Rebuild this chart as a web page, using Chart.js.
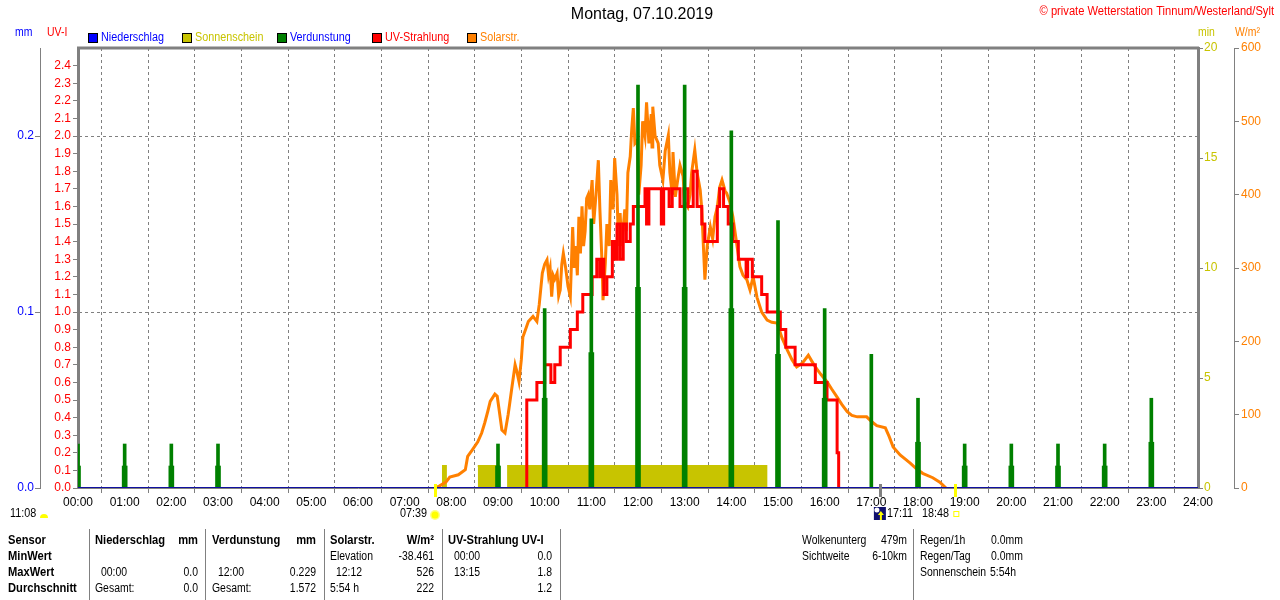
<!DOCTYPE html>
<html>
<head>
<meta charset="utf-8">
<script src="https://cdn.jsdelivr.net/npm/chart.js@4.4.1/dist/chart.umd.min.js"></script>
<style>
  html, body { margin: 0; padding: 0; background: #fff; }
  canvas { display: block; }
</style>
</head>
<body>
<canvas id="wetterChart" width="1280" height="600"></canvas>
<script>
// --- ticks / labels ---
const hourTicks = [0, 60, 120, 180, 240, 300, 360, 420, 480, 540, 600, 660, 720,
  780, 840, 900, 960, 1020, 1080, 1140, 1200, 1260, 1320, 1380, 1440];
const hourLabels = ['00:00', '01:00', '02:00', '03:00', '04:00', '05:00', '06:00', '07:00',
  '08:00', '09:00', '10:00', '11:00', '12:00', '13:00', '14:00', '15:00', '16:00', '17:00',
  '18:00', '19:00', '20:00', '21:00', '22:00', '23:00', '24:00'];
const uvTicks = [0, 0.1, 0.2, 0.3, 0.4, 0.5, 0.6, 0.7, 0.8, 0.9, 1.0, 1.1, 1.2, 1.3, 1.4,
  1.5, 1.6, 1.7, 1.8, 1.9, 2.0, 2.1, 2.2, 2.3, 2.4];
const mmTicks = [0, 0.1, 0.2];
const minTicks = [0, 5, 10, 15, 20];
const wm2Ticks = [0, 100, 200, 300, 400, 500, 600];

// --- series (time in minutes since 00:00) ---
const niederTimes = [0, 1440];
const niederValues = [0, 0];

const sunTimes = [468, 473, 474, 514, 541, 542, 549, 553, 885, 1440];
const sunValues = [1, 0, null, 1, 0, null, 0, 1, 0, 0];

const verdTimes = [0, 60, 120, 180, 540, 600, 660, 720, 780, 840, 900, 960, 1020, 1080,
  1140, 1200, 1260, 1320, 1380];
const verdValues = [0.025, 0.025, 0.025, 0.025, 0.025, 0.102, 0.153, 0.229, 0.229, 0.203,
  0.152, 0.102, 0.076, 0.051, 0.025, 0.025, 0.025, 0.025, 0.051];
const verdShoulder = [0.0125, 0.0125, 0.0125, 0.0125, 0.0125, 0.051, 0.077, 0.114, 0.114,
  0.102, 0.076, 0.051, 0, 0.026, 0.0125, 0.0125, 0.0125, 0.0125, 0.026];

const uvTimes = [576, 577, 590, 600, 608, 613, 620, 633, 642, 649, 661, 667, 671, 674, 676,
  680, 687, 690, 693, 697, 701, 705, 710, 714, 729, 731, 734, 750, 753, 760, 764, 774, 779,
  784, 791, 796, 802, 806, 815, 822, 825, 830, 836, 842, 849, 859, 861, 867, 879, 886, 903,
  910, 922, 948, 963, 976, 978];
const uvValues = [0, 0.5, 0.6, 0.7, 0.6, 0.7, 0.8, 0.9, 1.0, 1.1, 1.2, 1.3, 1.2, 1.3, 1.1,
  1.2, 1.4, 1.3, 1.5, 1.3, 1.5, 1.4, 1.5, 1.6, 1.7, 1.5, 1.7, 1.5, 1.7, 1.6, 1.7, 1.6, 1.7,
  1.6, 1.8, 1.6, 1.5, 1.4, 1.4, 1.6, 1.7, 1.6, 1.5, 1.4, 1.3, 1.2, 1.3, 1.2, 1.1, 1.0, 0.9,
  0.8, 0.7, 0.6, 0.5, 0.2, 0];

const solarTimes = [459, 465, 473, 478, 489, 498, 501, 507, 514, 519, 523, 527, 530, 536,
  539, 541, 545, 549, 553, 555, 558, 562, 564, 567, 570, 572, 576, 579, 585, 590, 593, 597,
  600, 603, 605, 607, 609, 611, 613, 616, 618, 620, 622, 624, 627, 630, 633, 636, 638, 640,
  642, 644, 646, 648, 650, 652, 654, 656, 658, 661, 663, 666, 669, 671, 674, 675, 678, 680,
  683, 685, 688, 690, 693, 695, 697, 699, 703, 705, 707, 710, 712, 714, 716, 719, 721, 724,
  726, 729, 731, 734, 737, 738, 739, 742, 746, 748, 752, 755, 759, 761, 764, 765, 768, 771,
  774, 778, 780, 784, 787, 789, 793, 796, 800, 802, 806, 809, 813, 816, 819, 822, 825, 828,
  832, 834, 838, 842, 846, 851, 855, 860, 864, 868, 873, 879, 886, 892, 899, 905, 912, 918,
  924, 931, 939, 944, 948, 955, 963, 969, 976, 982, 989, 995, 1002, 1014, 1021, 1027, 1038,
  1043, 1048, 1057, 1070, 1077, 1086, 1099, 1108, 1112, 1116];
const solarValues = [0, 3, 8, 15, 18, 25, 43, 52, 63, 75, 89, 105, 118, 128,
  125, 110, 79, 75, 100, 115, 138, 168, 160, 145, 175, 206, 218, 227, 234, 227, 250, 293,
  305, 311, 290, 300, 261, 290, 285, 293, 262, 270, 305, 320, 300, 275, 261, 356, 300, 330,
  290, 370, 320, 384, 330, 350, 395, 400, 380, 420, 360, 400, 447, 380, 300, 256, 307, 360,
  330, 420, 380, 450, 400, 330, 375, 330, 380, 350, 430, 452, 490, 518, 470, 474, 400, 440,
  500, 480, 526, 470, 510, 465, 520, 480, 470, 440, 420, 460, 481, 430, 400, 458, 397, 420,
  440, 425, 390, 383, 400, 430, 461, 430, 406, 380, 284, 330, 356, 340, 370, 383, 410, 420,
  405, 402, 390, 370, 340, 302, 290, 284, 270, 288, 260, 240, 229, 226, 225, 205, 188, 175,
  165, 170, 181, 172, 165, 155, 145, 135, 124, 114, 104, 99, 97, 97, 90, 85, 82,
  70, 56, 45, 34, 27, 20, 14, 8, 4, 0];

// sunrise, moon mark, sunset marks below the axis
const markTimes = [459, 1031, 1128];

const FONT = '"Liberation Sans", Arial, sans-serif';
const GREY = '#808080';
const OLIVE = '#c8c400';
const ORANGE = '#ff8000';

function pts(xs, ys) {
  return xs.map((x, i) => ({ x: x, y: ys[i] }));
}

Chart.defaults.font.family = FONT;
Chart.defaults.font.size = 12;

// text helper, squeezed horizontally to get closer to the narrow original font
function txt(ctx, s, x, y, color, align, bold, size, sx) {
  ctx.save();
  ctx.font = (bold ? 'bold ' : '') + (size || 12) + 'px ' + FONT;
  ctx.fillStyle = color;
  ctx.textAlign = align || 'left';
  ctx.textBaseline = 'middle';
  ctx.translate(x, y);
  ctx.scale(sx || (bold ? 0.93 : 0.87), 1);
  ctx.fillText(s, 0, 0);
  ctx.restore();
}

const extras = {
  id: 'extras',
  afterDraw(chart) {
    const ctx = chart.ctx;
    const area = chart.chartArea;
    const xs = chart.scales.x;
    ctx.save();

    // top frame line
    ctx.strokeStyle = GREY;
    ctx.lineWidth = 3;
    ctx.beginPath();
    ctx.moveTo(area.left - 1, area.top);
    ctx.lineTo(area.right + 1, area.top);
    ctx.stroke();

    // title + copyright
    txt(ctx, 'Montag, 07.10.2019', 642, 15, '#000', 'center', false, 16, 1);
    txt(ctx, '\u00a9 private Wetterstation Tinnum/Westerland/Sylt', 1274, 12, '#ff0000', 'right', false, 12, 0.93);

    // unit labels
    txt(ctx, 'mm', 15, 33, '#0000ff');
    txt(ctx, 'UV-I', 47, 33, '#ff0000');
    txt(ctx, 'min', 1198, 33, OLIVE);
    txt(ctx, 'W/m\u00b2', 1235, 33, ORANGE);

    // legend
    const legend = [
      ['Niederschlag', '#0000ff', '#0000ff', 88],
      ['Sonnenschein', OLIVE, OLIVE, 182],
      ['Verdunstung', '#008000', '#0000ff', 277],
      ['UV-Strahlung', '#ff0000', '#ff0000', 372],
      ['Solarstr.', ORANGE, ORANGE, 467]
    ];
    legend.forEach(([label, box, color, x]) => {
      ctx.fillStyle = box;
      ctx.fillRect(x, 33, 9, 9);
      ctx.strokeStyle = '#000';
      ctx.lineWidth = 1;
      ctx.strokeRect(x + 0.5, 33.5, 9, 9);
      txt(ctx, label, x + 13, 38, color, 'left', false, 12, 0.9);
    });

    // sunrise / moon / sunset marks
    const colors = ['#ffff00', GREY, '#ffff00'];
    markTimes.forEach((t, i) => {
      const px = Math.round(xs.getPixelForValue(t));
      ctx.fillStyle = colors[i];
      ctx.fillRect(px - 1, area.bottom - 4, 3, 13);
    });

    txt(ctx, '11:08', 10, 514, '#000', 'left', false, 12, 0.9);
    ctx.fillStyle = '#ffff00';
    ctx.beginPath();
    ctx.arc(44, 518, 4, Math.PI, 0);
    ctx.fill();

    const sx = xs.getPixelForValue(markTimes[0]);
    txt(ctx, '07:39', sx - 35, 514, '#000', 'left', false, 12, 0.9);
    ctx.fillStyle = '#ffff80';
    ctx.beginPath(); ctx.arc(sx, 515, 5, 0, Math.PI * 2); ctx.fill();
    ctx.fillStyle = '#ffff00';
    ctx.beginPath(); ctx.arc(sx, 515, 3.5, 0, Math.PI * 2); ctx.fill();

    const mx = xs.getPixelForValue(markTimes[1]);
    ctx.fillStyle = '#10106e';
    ctx.fillRect(mx - 6, 507, 12, 13);
    ctx.fillStyle = '#fff';
    ctx.beginPath(); ctx.arc(mx - 3, 510, 2.5, 0, Math.PI * 2); ctx.fill();
    ctx.fillStyle = '#ffff00';
    ctx.beginPath();
    ctx.moveTo(mx + 1, 511); ctx.lineTo(mx + 4, 515); ctx.lineTo(mx - 2, 515); ctx.closePath(); ctx.fill();
    ctx.fillRect(mx, 515, 2, 5);
    txt(ctx, '17:11', mx + 7, 514, '#000', 'left', false, 12, 0.9);
    txt(ctx, '18:48', mx + 42, 514, '#000', 'left', false, 12, 0.9);
    const ux = xs.getPixelForValue(markTimes[2]);
    ctx.strokeStyle = '#ffff00';
    ctx.lineWidth = 1;
    ctx.strokeRect(ux - 1.5, 511.5, 5, 5);

    // table
    ctx.strokeStyle = GREY;
    ctx.lineWidth = 1;
    [89, 205, 324, 442, 560, 913].forEach(x => {
      ctx.beginPath(); ctx.moveTo(x + 0.5, 529); ctx.lineTo(x + 0.5, 600); ctx.stroke();
    });
    const rows = [541, 557, 573, 589];
    const cells = [
      [0, 'Sensor', 8, 'left', true], [0, 'Niederschlag', 95, 'left', true], [0, 'mm', 198, 'right', true],
      [0, 'Verdunstung', 212, 'left', true], [0, 'mm', 316, 'right', true],
      [0, 'Solarstr.', 330, 'left', true], [0, 'W/m\u00b2', 434, 'right', true],
      [0, 'UV-Strahlung UV-I', 448, 'left', true],
      [1, 'MinWert', 8, 'left', true], [1, 'Elevation', 330, 'left'], [1, '-38.461', 434, 'right'],
      [1, '00:00', 454, 'left'], [1, '0.0', 552, 'right'],
      [2, 'MaxWert', 8, 'left', true], [2, '00:00', 101, 'left'], [2, '0.0', 198, 'right'],
      [2, '12:00', 218, 'left'], [2, '0.229', 316, 'right'], [2, '12:12', 336, 'left'],
      [2, '526', 434, 'right'], [2, '13:15', 454, 'left'], [2, '1.8', 552, 'right'],
      [3, 'Durchschnitt', 8, 'left', true], [3, 'Gesamt:', 95, 'left'], [3, '0.0', 198, 'right'],
      [3, 'Gesamt:', 212, 'left'], [3, '1.572', 316, 'right'], [3, '5:54 h', 330, 'left'],
      [3, '222', 434, 'right'], [3, '1.2', 552, 'right'],
      [0, 'Wolkenunterg', 802, 'left'], [0, '479m', 907, 'right'],
      [1, 'Sichtweite', 802, 'left'], [1, '6-10km', 907, 'right'],
      [0, 'Regen/1h', 920, 'left'], [0, '0.0mm', 991, 'left'],
      [1, 'Regen/Tag', 920, 'left'], [1, '0.0mm', 991, 'left'],
      [2, 'Sonnenschein', 920, 'left'], [2, '5:54h', 990, 'left']
    ];
    cells.forEach(([r, s, x, align, bold]) => txt(ctx, s, x, rows[r], '#000', align, bold));

    ctx.restore();
  }
};

function fixTicks(list) {
  return scale => { scale.ticks = list.map(v => ({ value: v })); };
}

new Chart(document.getElementById('wetterChart'), {
  type: 'line',
  data: {
    datasets: [
      {
        label: 'Niederschlag',
        data: pts(niederTimes, niederValues),
        yAxisID: 'mm',
        borderColor: '#1010a0',
        borderWidth: 2,
        pointRadius: 0,
        order: 0
      },
      {
        type: 'bar',
        label: 'Verdunstung',
        data: pts(verdTimes, verdValues),
        yAxisID: 'mm',
        backgroundColor: '#008000',
        barThickness: 3,
        grouped: false,
        order: 1
      },
      {
        type: 'bar',
        label: 'Verdunstung Basis',
        data: pts(verdTimes, verdShoulder),
        yAxisID: 'mm',
        backgroundColor: '#008000',
        barThickness: 5,
        grouped: false,
        order: 1
      },
      {
        label: 'UV-Strahlung',
        data: pts(uvTimes, uvValues),
        yAxisID: 'uv',
        borderColor: '#ff0000',
        borderWidth: 3,
        stepped: 'before',
        pointRadius: 0,
        order: 2
      },
      {
        label: 'Solarstr.',
        data: pts(solarTimes, solarValues),
        yAxisID: 'wm2',
        borderColor: ORANGE,
        borderWidth: 3,
        pointRadius: 0,
        tension: 0,
        order: 3
      },
      {
        label: 'Sonnenschein',
        data: pts(sunTimes, sunValues),
        yAxisID: 'min',
        borderColor: OLIVE,
        backgroundColor: OLIVE,
        borderWidth: 2,
        stepped: 'before',
        fill: 'origin',
        spanGaps: false,
        pointRadius: 0,
        order: 4
      }
    ]
  },
  options: {
    responsive: false,
    animation: false,
    devicePixelRatio: 1,
    layout: { padding: { top: 48, left: 0, right: 0, bottom: 0 } },
    plugins: { legend: { display: false }, title: { display: false }, tooltip: { enabled: false } },
    events: [],
    scales: {
      x: {
        type: 'linear',
        min: 0,
        max: 1440,
        offset: false,
        afterBuildTicks: fixTicks(hourTicks),
        afterFit: s => { s.height = 112; },
        ticks: {
          color: '#000',
          padding: 2,
          maxRotation: 0,
          autoSkip: false,
          callback: (v, i) => hourLabels[i]
        },
        grid: { color: GREY, tickLength: 5, tickBorderDash: [1, 0] },
        border: { color: GREY, width: 1, dash: [3, 3] }
      },
      mm: {
        position: 'left',
        weight: 1,
        min: 0,
        max: 0.25,
        afterBuildTicks: fixTicks(mmTicks),
        afterFit: s => { s.width = 40; },
        ticks: { color: '#0000ff', padding: 1, callback: v => v.toFixed(1) },
        grid: { color: GREY, tickLength: 5, tickBorderDash: [1, 0] },
        border: { color: GREY, width: 1, dash: [3, 3] }
      },
      uv: {
        position: 'left',
        weight: 0,
        min: 0,
        max: 2.5,
        afterBuildTicks: fixTicks(uvTicks),
        afterFit: s => { s.width = 38; },
        ticks: { color: '#ff0000', padding: 2, callback: v => v.toFixed(1) },
        grid: { drawOnChartArea: false, color: GREY, tickLength: 5 },
        border: { color: GREY, width: 3 }
      },
      min: {
        position: 'right',
        weight: 0,
        min: 0,
        max: 20,
        afterBuildTicks: fixTicks(minTicks),
        afterFit: s => { s.width = 36; },
        ticks: { color: OLIVE, padding: 1 },
        grid: { drawOnChartArea: false, color: GREY, tickLength: 5 },
        border: { color: GREY, width: 3 }
      },
      wm2: {
        position: 'right',
        weight: 1,
        min: 0,
        max: 600,
        afterBuildTicks: fixTicks(wm2Ticks),
        afterFit: s => { s.width = 46; },
        ticks: { color: ORANGE, padding: 2 },
        grid: { drawOnChartArea: false, color: GREY, tickLength: 5 },
        border: { color: GREY, width: 1 }
      }
    }
  },
  plugins: [extras]
});
</script>
</body>
</html>
